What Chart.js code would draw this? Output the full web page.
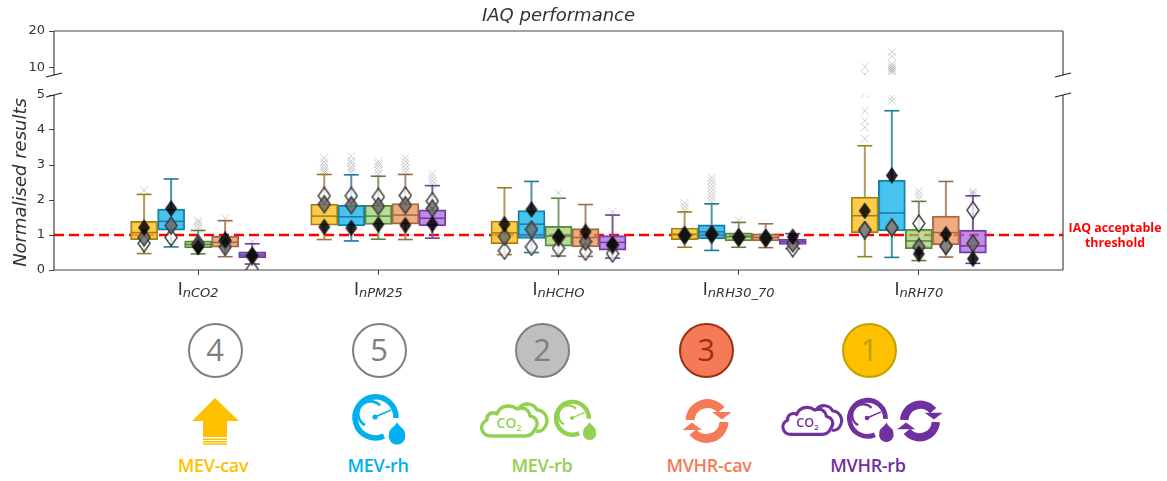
<!DOCTYPE html>
<html lang="en">
  <head>
    <meta charset="UTF-8" />
    <title>IAQ performance</title>
    <style>
      html, body { margin: 0; background: #fff; }
      #page { position: relative; width: 1167px; height: 481px; overflow: hidden; font-family: "Open Sans", sans-serif; }
      canvas { position: absolute; left: 0; }
      #upperChart { top: 0; }
      #lowerChart { top: 80px; }
      .threshold { position: absolute; left: 1058px; width: 114px; top: 221px; text-align: center; color: #f00; font: bold 12.4px/14.5px "Open Sans", sans-serif; }
      .rank { position: absolute; top: 323px; width: 55px; height: 55px; box-sizing: border-box; border: 2.5px solid; border-radius: 50%; text-align: center; font-size: 31px; font-weight: 500; line-height: 49px; }
      .system { position: absolute; top: 453px; width: 140px; text-align: center; font-size: 18px; line-height: 24px; font-weight: 600; letter-spacing: -0.3px; }
      #icons { position: absolute; left: 0; top: 0; }
    </style>
  </head>
  <body>
    <div id="page">
      <canvas id="upperChart" width="1167" height="90"></canvas>
      <canvas id="lowerChart" width="1167" height="220"></canvas>
      <div class="threshold">IAQ acceptable<br />threshold</div>
      <div id="ranks"></div>
      <svg id="icons" width="1167" height="481"></svg>
    </div>

    <script src="https://cdn.jsdelivr.net/npm/chart.js"></script>
    <script>
      // rows = systems, columns = indicators
      const indicators = ["nCO2", "nPM25", "nHCHO", "nRH30_70", "nRH70"];
      const systems = ["MEV-cav", "MEV-rh", "MEV-rb", "MVHR-cav", "MVHR-rb"];
      const yTicksLower = [0, 1, 2, 3, 4, 5];
      const yTicksUpper = [10, 20];
      const threshold = 1;

      const q1 = [
        [0.87, 1.28, 0.75, 0.87, 1.07],
        [1.14, 1.26, 0.9, 0.89, 1.12],
        [0.63, 1.3, 0.68, 0.83, 0.61],
        [0.65, 1.31, 0.66, 0.83, 0.72],
        [0.35, 1.26, 0.57, 0.73, 0.48],
      ];
      const medians = [
        [1.07, 1.54, 1.06, 1.02, 1.55],
        [1.39, 1.52, 1.31, 1.09, 1.63],
        [0.73, 1.54, 0.97, 0.95, 0.83],
        [0.79, 1.57, 0.93, 0.93, 1.07],
        [0.43, 1.48, 0.79, 0.81, 0.69],
      ];
      const q3 = [
        [1.39, 1.88, 1.4, 1.2, 2.08],
        [1.74, 1.85, 1.7, 1.29, 2.57],
        [0.83, 1.85, 1.25, 1.06, 1.16],
        [0.97, 1.9, 1.18, 1.03, 1.54],
        [0.52, 1.72, 0.98, 0.88, 1.14],
      ];
      const whiskerLow = [
        [0.47, 0.87, 0.44, 0.65, 0.38],
        [0.66, 0.83, 0.5, 0.56, 0.36],
        [0.46, 0.88, 0.4, 0.65, 0.27],
        [0.38, 0.87, 0.39, 0.64, 0.37],
        [0.17, 0.91, 0.34, 0.61, 0.19],
      ];
      const whiskerHigh = [
        [2.16, 2.73, 2.35, 1.66, 3.55],
        [2.6, 2.72, 2.53, 1.89, 4.55],
        [1.13, 2.68, 2.05, 1.36, 1.96],
        [1.41, 2.73, 1.87, 1.32, 2.53],
        [0.75, 2.41, 1.57, 1.04, 2.12],
      ];
      const blackDiamonds = [
        [1.21, 1.23, 1.31, 0.99, 1.69],
        [1.76, 1.2, 1.73, 1.02, 2.7],
        [0.66, 1.3, 0.95, 0.93, 0.46],
        [0.85, 1.28, 1.09, 0.91, 1.02],
        [0.41, 1.31, 0.73, 0.95, 0.32],
      ];
      const greyDiamonds = [
        [0.93, 1.88, 0.95, 0.99, 1.14],
        [1.27, 1.85, 1.16, 1.02, 1.21],
        [0.71, 1.82, 0.93, 0.93, 0.66],
        [0.66, 1.85, 0.81, 0.91, 0.69],
        [0.4, 1.76, 0.71, 0.76, 0.76],
      ];
      const whiteDiamonds = [
        [0.76, 2.12, 0.55, 0.99, 1.14],
        [0.93, 2.12, 0.66, 1.02, 1.21],
        [0.76, 2.09, 0.62, 0.93, 1.33],
        [0.83, 2.13, 0.52, 0.91, 0.69],
        [0.02, 1.97, 0.47, 0.62, 1.71],
      ];
      const fliers = [
        [[2.28], [2.78, 2.85, 2.92, 3.0, 3.08, 3.2], [], [1.72, 1.82, 1.92], [3.75, 4.08, 4.27, 4.55, 5.03, 8.3, 10.3]],
        [[], [2.8, 2.88, 2.95, 3.05, 3.12, 3.25], [], [1.95, 2.05, 2.15, 2.25, 2.35, 2.45, 2.55, 2.65], [4.83, 4.93, 8.8, 9.2, 9.6, 10, 10.5, 11.1, 13.1, 14.3]],
        [[1.2, 1.28, 1.36, 1.42], [2.75, 2.85, 2.95, 3.03, 3.1], [2.2], [1.42], [2.05, 2.15, 2.25]],
        [[1.47], [2.8, 2.9, 3.0, 3.1, 3.2], [], [], []],
        [[0.81], [2.45, 2.55, 2.65, 2.75], [1.66], [], [2.15, 2.2, 2.25]],
      ];

      const boxFills = ["rgba(253,190,20,0.78)", "rgba(10,175,235,0.75)", "rgba(150,205,100,0.68)", "rgba(233,140,80,0.72)", "rgba(170,95,225,0.72)"];
      const boxEdges = ["#9c7d24", "#1c7a9c", "#5c8240", "#9c6a48", "#6c3f9c"];
      const whiskerEdges = ["#b2995a", "#4f93ad", "#7f9c68", "#b08a70", "#7d55a8"];

      const boxStep = 0.15;
      const xOf = (s, c) => c + (s - 2) * boxStep;

      function makeDiamond(fill, stroke) {
        const cv = document.createElement("canvas");
        cv.width = 14;
        cv.height = 19;
        const g = cv.getContext("2d");
        g.beginPath();
        g.moveTo(7, 1);
        g.lineTo(13, 9.5);
        g.lineTo(7, 18);
        g.lineTo(1, 9.5);
        g.closePath();
        g.fillStyle = fill;
        g.fill();
        if (stroke) {
          g.strokeStyle = stroke;
          g.lineWidth = 1.4;
          g.stroke();
        }
        return cv;
      }
      const blackMark = makeDiamond("rgba(0,0,0,0.85)");
      const greyMark = makeDiamond("rgba(105,105,105,0.8)", "#3c3c3c");
      const whiteMark = makeDiamond("rgba(255,255,255,0.75)", "#3c3c3c");

      function pointSet(values, opts) {
        return Object.assign({ type: "scatter", data: values, showLine: false, pointHoverRadius: 0 }, opts);
      }

      function buildDatasets() {
        const sets = [];
        // threshold goes under everything
        sets.push({
          type: "scatter",
          data: [{ x: -0.8, y: threshold }, { x: 4.8, y: threshold }],
          showLine: true,
          borderColor: "#f00",
          borderWidth: 2.6,
          borderDash: [10, 5],
          pointRadius: 0,
          order: 20,
        });
        systems.forEach((name, s) => {
          const cats = indicators.map((_, c) => c);
          const stems = [];
          const caps = [];
          cats.forEach((c) => {
            const x = xOf(s, c);
            stems.push({ x, y: whiskerLow[s][c] }, { x, y: q1[s][c] }, { x, y: null });
            stems.push({ x, y: q3[s][c] }, { x, y: whiskerHigh[s][c] }, { x, y: null });
            caps.push({ x, y: whiskerLow[s][c] }, { x, y: whiskerHigh[s][c] });
          });
          sets.push({
            type: "scatter",
            label: name + " whiskers",
            data: stems,
            showLine: true,
            spanGaps: false,
            borderColor: whiskerEdges[s],
            borderWidth: 2,
            pointRadius: 0,
            order: 15,
          });
          sets.push(pointSet(caps, {
            pointStyle: "line",
            pointRadius: 7.5,
            pointBorderWidth: 1.6,
            pointBorderColor: boxEdges[s],
            order: 14,
          }));
          sets.push({
            type: "bar",
            label: name,
            data: cats.map((c) => ({ x: xOf(s, c), y: [q1[s][c], q3[s][c]] })),
            backgroundColor: boxFills[s],
            borderColor: boxEdges[s],
            borderWidth: 1.5,
            borderSkipped: false,
            grouped: false,
            barPercentage: 1,
            categoryPercentage: 1,
            order: 13,
          });
          sets.push(pointSet(cats.map((c) => ({ x: xOf(s, c), y: medians[s][c] })), {
            pointStyle: "line",
            pointRadius: 13.5,
            pointBorderWidth: 1.5,
            pointBorderColor: boxEdges[s],
            order: 12,
          }));
          const out = [];
          cats.forEach((c) => fliers[s][c].forEach((v) => out.push({ x: xOf(s, c), y: v })));
          sets.push(pointSet(out, {
            pointStyle: "crossRot",
            pointRadius: 5.5,
            pointBorderWidth: 1,
            pointBorderColor: "rgba(0,0,0,0.18)",
            order: 11,
          }));
          sets.push(pointSet(cats.map((c) => ({ x: xOf(s, c), y: whiteDiamonds[s][c] })), { pointStyle: whiteMark, pointRadius: 6, order: 10 }));
          sets.push(pointSet(cats.map((c) => ({ x: xOf(s, c), y: greyDiamonds[s][c] })), { pointStyle: greyMark, pointRadius: 6, order: 9 }));
          sets.push(pointSet(cats.map((c) => ({ x: xOf(s, c), y: blackDiamonds[s][c] })), { pointStyle: blackMark, pointRadius: 6, order: 8 }));
        });
        return sets;
      }

      const axisColor = "#444";
      const textColor = "#333";
      const tickFont = { family: "DejaVu Sans", size: 13 };

      function line(ctx, x0, y0, x1, y1) {
        ctx.beginPath();
        ctx.moveTo(x0, y0);
        ctx.lineTo(x1, y1);
        ctx.stroke();
      }

      // frame with the open side at the axis break, and the little slashes
      const frame = {
        id: "frame",
        afterDraw(chart, args, opts) {
          const { ctx, chartArea: { left, right, top, bottom } } = chart;
          ctx.save();
          ctx.strokeStyle = axisColor;
          ctx.lineWidth = 1.2;
          line(ctx, left, top, left, bottom);
          line(ctx, right, top, right, bottom);
          const edge = opts.closed === "top" ? top : bottom;
          const open = opts.closed === "top" ? bottom : top;
          line(ctx, left, edge, right, edge);
          ctx.strokeStyle = "#222";
          line(ctx, left - 8, open + 2, left + 8, open - 2);
          line(ctx, right - 8, open + 2, right + 8, open - 2);
          ctx.restore();
        },
      };

      // I with an italic subscript, matplotlib style
      const indicatorLabels = {
        id: "indicatorLabels",
        afterDraw(chart) {
          const { ctx, scales: { x } } = chart;
          const base = x.top + 25;
          ctx.save();
          ctx.fillStyle = textColor;
          ctx.textAlign = "left";
          ctx.textBaseline = "alphabetic";
          indicators.forEach((name, c) => {
            ctx.font = '17px "DejaVu Sans"';
            const w0 = ctx.measureText("I").width;
            ctx.font = 'italic 13px "DejaVu Sans"';
            const w1 = ctx.measureText(name).width;
            const start = x.getPixelForValue(c) - (w0 + w1) / 2;
            ctx.font = '17px "DejaVu Sans"';
            ctx.fillText("I", start, base);
            ctx.font = 'italic 13px "DejaVu Sans"';
            ctx.fillText(name, start + w0, base + 2);
          });
          ctx.restore();
        },
      };

      function xAxis(visible) {
        return {
          type: "linear",
          offset: false,
          min: -0.8,
          max: 4.8,
          display: visible,
          afterBuildTicks: (scale) => { scale.ticks = indicators.map((_, c) => ({ value: c })); },
          afterFit: (scale) => { scale.height = visible ? 30 : 0; },
          grid: { offset: false, drawOnChartArea: false, tickLength: 5, color: axisColor },
          border: { display: false },
          ticks: { callback: () => "", maxRotation: 0 },
        };
      }

      function yAxis(min, max, tickValues, title) {
        return {
          type: "linear",
          min,
          max,
          afterBuildTicks: (scale) => { scale.ticks = tickValues.map((v) => ({ value: v })); },
          afterFit: (scale) => { scale.width = 54; },
          grid: { drawOnChartArea: false, tickLength: 5, color: axisColor },
          border: { display: false },
          ticks: { color: textColor, font: tickFont, padding: 4 },
          title: title
            ? { display: true, text: title, color: textColor, padding: { top: 11, bottom: 0 }, font: { family: "DejaVu Sans", style: "italic", size: 18 } }
            : { display: false },
        };
      }

      const upperChart = new Chart(document.getElementById("upperChart"), {
        type: "scatter",
        data: { datasets: buildDatasets() },
        options: {
          responsive: false,
          animation: false,
          events: [],
          layout: { padding: { left: 0, right: 104, top: 0, bottom: 1.2 } },
          plugins: {
            legend: { display: false },
            tooltip: { enabled: false },
            frame: { closed: "top" },
            title: {
              display: true,
              text: "IAQ performance",
              fullSize: false,
              color: textColor,
              padding: { top: 6, bottom: 3.4 },
              font: { family: "DejaVu Sans", style: "italic", size: 18, weight: "normal", lineHeight: 1.2 },
            },
          },
          scales: { x: xAxis(false), y: yAxis(8.1, 20, yTicksUpper) },
        },
        plugins: [frame],
      });

      const lowerChart = new Chart(document.getElementById("lowerChart"), {
        type: "scatter",
        data: { datasets: buildDatasets() },
        options: {
          responsive: false,
          animation: false,
          events: [],
          layout: { padding: { left: 0, right: 104, top: 6.2, bottom: 0 } },
          plugins: {
            legend: { display: false },
            tooltip: { enabled: false },
            frame: { closed: "bottom" },
          },
          scales: { x: xAxis(true), y: yAxis(0, 5, yTicksLower, "Normalised results") },
        },
        plugins: [frame, indicatorLabels],
      });

      // ranking row under the chart
      const rankNumbers = [4, 5, 2, 3, 1];
      const rankCentres = [215, 379, 542, 706, 869];
      const rankFills = ["#fff", "#fff", "#bfbfbf", "#f47a58", "#ffc000"];
      const rankEdges = ["#7f7f7f", "#7f7f7f", "#7f7f7f", "#9c2f14", "#bfa200"];
      const labelCentres = [213, 378, 542, 709, 868];
      const labelColours = ["#ffc000", "#00b0f0", "#92d050", "#f47a58", "#7030a0"];
      const ranks = document.getElementById("ranks");
      systems.forEach((name, i) => {
        const r = document.createElement("div");
        r.className = "rank";
        r.style.left = rankCentres[i] - 27.5 + "px";
        r.style.background = rankFills[i];
        r.style.borderColor = rankEdges[i];
        r.style.color = rankEdges[i];
        r.textContent = rankNumbers[i];
        ranks.appendChild(r);
        const l = document.createElement("div");
        l.className = "system";
        l.style.left = labelCentres[i] - 70 + "px";
        l.style.color = labelColours[i];
        l.textContent = name;
        ranks.appendChild(l);
      });

      function arrowIcon(color) {
        return `<g fill="${color}"><path d="M215 398 L239 421 L227 421 L227 437 L203 437 L203 421 L192 421 Z"/>
          <rect x="203" y="438.5" width="24" height="1.5"/><rect x="203" y="441" width="24" height="1.5"/><rect x="203" y="443.2" width="24" height="1.5"/></g>`;
      }

      function gaugeIcon(cx, cy, k, color) {
        return `<g transform="translate(${cx} ${cy}) scale(${k})" fill="none" stroke="${color}">
          <path d="M21 1 A20.5 20.5 0 1 0 9 19" stroke-width="5.5"/>
          <path d="M5 -11.5 A12.5 12.5 0 1 0 -10 8" stroke-width="2.6"/>
          <path d="M0 0 L16 -7" stroke-width="1.6"/>
          <circle cx="0" cy="0" r="2.6" fill="${color}" stroke="none"/>
          <path d="M22 5 C24 10 30 11 30 17 A8.3 8.3 0 1 1 14 17 C14 11 20 10 22 5 Z" fill="${color}" stroke="none"/>
        </g>`;
      }

      function cloudIcon(cx, cy, k, color) {
        return `<g transform="translate(${cx} ${cy}) scale(${k})" fill="none" stroke="${color}" stroke-width="3.4" stroke-linejoin="round">
          <path d="M-23 16 C-33 16 -36 4 -27 0 C-28 -6 -21 -9 -17 -6 C-14 -15 -3 -16 3 -11 C10 -14 15 -10 16 -4 C23 -3 25 4 21 9 C19 14 16 16 11 16 Z"/>
          <path d="M5 -12 C10 -18 20 -17 23 -10 C30 -10 35 -2 32 5 C30 10 26 12 22 11"/>
          <text x="-5" y="8" text-anchor="middle" fill="${color}" stroke="none" font-family="Open Sans" font-weight="600" font-size="14">CO<tspan font-size="8.5" dy="3">2</tspan></text>
        </g>`;
      }

      function cycleIcon(cx, cy, k, color) {
        const half = `<path d="M-17 -1 A17.5 17.5 0 0 1 14 -11" fill="none" stroke="${color}" stroke-width="9"/><path d="M5 -9 L24.5 -9 L15 -1.5 Z" fill="${color}"/>`;
        return `<g transform="translate(${cx} ${cy}) scale(${k})">${half}<g transform="rotate(180)">${half}</g></g>`;
      }

      document.getElementById("icons").innerHTML =
        arrowIcon(labelColours[0]) +
        gaugeIcon(375, 417, 1, labelColours[1]) +
        cloudIcon(514, 420, 1, labelColours[2]) +
        gaugeIcon(572, 418, 0.8, labelColours[2]) +
        cycleIcon(707, 421, 1, labelColours[3]) +
        cloudIcon(812, 420, 0.9, labelColours[4]) +
        gaugeIcon(867, 418, 0.88, labelColours[4]) +
        cycleIcon(920, 421, 0.93, labelColours[4]);
    </script>
  </body>
</html>
